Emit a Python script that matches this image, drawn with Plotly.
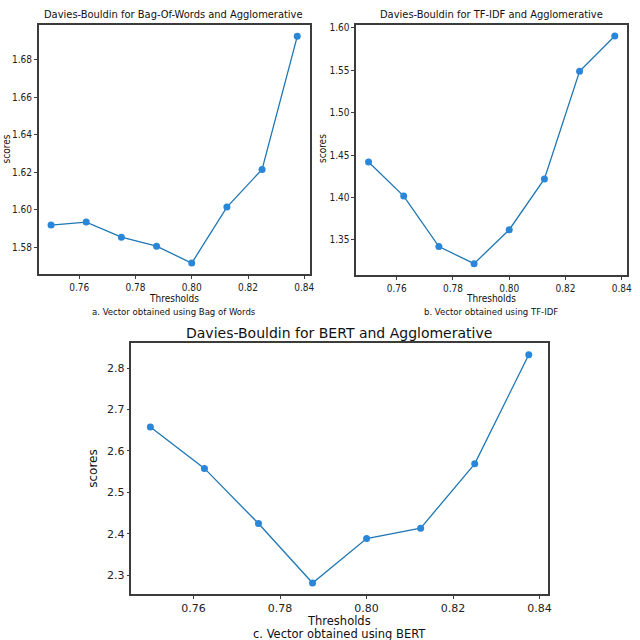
import plotly.graph_objects as go

thresholds = [0.75, 0.7625, 0.775, 0.7875, 0.80, 0.8125, 0.825, 0.8375]
bow_scores = [1.5918, 1.5934, 1.5853, 1.5805, 1.5715, 1.6014, 1.6215, 1.6925]
tfidf_scores = [1.4418, 1.4017, 1.3422, 1.3220, 1.3620, 1.4219, 1.5487, 1.5903]
bert_scores = [2.658, 2.558, 2.425, 2.2816, 2.389, 2.4138, 2.569, 2.832]

x_ticks = [0.76, 0.78, 0.80, 0.82, 0.84]
bow_ticks = [1.58, 1.60, 1.62, 1.64, 1.66, 1.68]
tfidf_ticks = [1.35, 1.40, 1.45, 1.50, 1.55, 1.60]
bert_ticks = [2.3, 2.4, 2.5, 2.6, 2.7, 2.8]


def pad(vals, m=0.05):
    lo, hi = min(vals), max(vals)
    d = (hi - lo) * m
    return [lo - d, hi + d]


narrow = "DejaVu Sans Condensed, Liberation Sans Narrow, Liberation Sans, sans-serif"
dejavu = "DejaVu Sans, sans-serif"
line_c = "#1f77b4"
mark_c = "#2a86d8"

fig = go.Figure()
panels = [
    ("x", "y", bow_scores),
    ("x2", "y2", tfidf_scores),
    ("x3", "y3", bert_scores),
]
for xa, ya, s in panels:
    fig.add_trace(go.Scatter(
        x=thresholds, y=s, xaxis=xa, yaxis=ya,
        mode="lines+markers",
        line=dict(color=line_c, width=1.3),
        marker=dict(color=mark_c, size=7),
        showlegend=False, hoverinfo="x+y"))

common = dict(showline=True, mirror=True, linecolor="#3c3c3c", linewidth=1.5,
              ticks="outside", ticklen=3, tickcolor="#3c3c3c",
              showgrid=False, zeroline=False)
small = dict(family=narrow, size=10, color="#222")
big = dict(family=dejavu, size=11, color="#222")

fig.update_layout(
    width=640, height=640,
    paper_bgcolor="white", plot_bgcolor="white",
    margin=dict(l=0, r=0, t=0, b=0),
    xaxis=dict(domain=[0.061, 0.4875], anchor="y", range=pad(thresholds),
               tickvals=x_ticks, tickformat=".2f", tickfont=small, **common),
    yaxis=dict(domain=[0.573, 0.964], anchor="x", range=pad(bow_scores),
               tickvals=bow_ticks, tickformat=".2f", tickfont=small, **common),
    xaxis2=dict(domain=[0.561, 0.9875], anchor="y2", range=pad(thresholds),
                tickvals=x_ticks, tickformat=".2f", tickfont=small, **common),
    yaxis2=dict(domain=[0.572, 0.9645], anchor="x2", range=pad(tfidf_scores),
                tickvals=tfidf_ticks, tickformat=".2f", tickfont=small, **common),
    xaxis3=dict(domain=[0.207, 0.8625], anchor="y3", range=pad(thresholds),
                tickvals=x_ticks, tickformat=".2f", tickfont=big, **common),
    yaxis3=dict(domain=[0.0714, 0.465], anchor="x3", range=pad(bert_scores),
                tickvals=bert_ticks, tickformat=".1f", tickfont=big, **common),
)

# titles, axis labels, captions (text, x px, y px, font, size, angle)
notes = [
    ("Davies-Bouldin for Bag-Of-Words and Agglomerative", 175, 13, narrow, 11, 0),
    ("Thresholds", 175, 297, narrow, 10, 0),
    ("a. Vector obtained using Bag of Words", 175, 310, narrow, 9.5, 0),
    ("scores", 7, 147, narrow, 10, -90),
    ("Davies-Bouldin for TF-IDF and Agglomerative", 495, 13, narrow, 11, 0),
    ("Thresholds", 495, 297, narrow, 10, 0),
    ("b. Vector obtained using TF-IDF", 495, 310, narrow, 9.5, 0),
    ("scores", 325, 147, narrow, 10, -90),
    ("Davies-Bouldin for BERT and Agglomerative", 342, 332, dejavu, 14, 0),
    ("Thresholds", 342, 621, dejavu, 11.5, 0),
    ("c. Vector obtained using BERT", 342, 634, dejavu, 11.5, 0),
    ("scores", 93, 468, dejavu, 12, -90),
]
for txt, px_, py_, fam, sz, ang in notes:
    fig.add_annotation(text=txt, x=px_ / 640, y=1 - py_ / 640,
                       xref="paper", yref="paper", showarrow=False,
                       xanchor="center", yanchor="middle", textangle=ang,
                       font=dict(family=fam, size=sz, color="#111"))

fig.write_html("out.html", config={"displayModeBar": False},
               post_script="document.body.style.margin='0';"
                           "document.body.style.overflow='hidden';")
